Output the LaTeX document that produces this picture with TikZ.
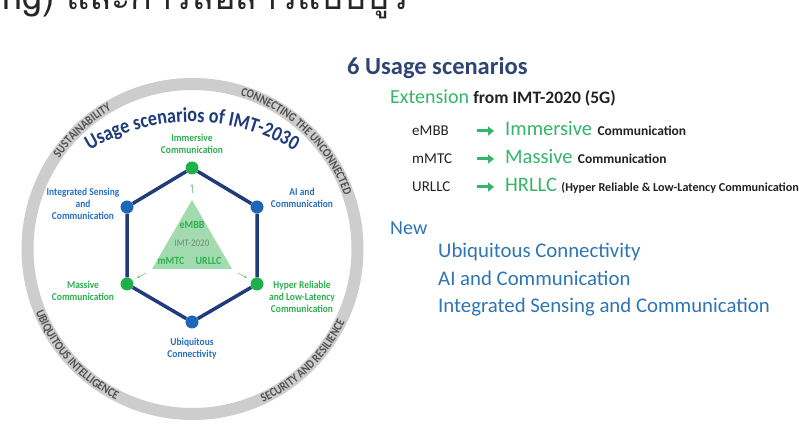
\documentclass[tikz,border=0pt]{standalone}
\usepackage{fontspec}
\setmainfont{Carlito}
\newfontfamily\thaifont[Script=Thai]{Loma}
\newfontfamily\condfont[FakeStretch=0.9]{Carlito}
\newfontfamily\ringcond[FakeStretch=0.85]{Carlito}
\newfontfamily\titlefont[FakeStretch=0.86]{Carlito}
\usetikzlibrary{decorations.text,arrows.meta}
\definecolor{ringgray}{HTML}{CDCDCD}
\definecolor{ringtext}{HTML}{505050}
\definecolor{navy}{HTML}{223B7C}
\definecolor{titleblue}{HTML}{1F3C7A}
\definecolor{dgreen}{HTML}{1FAF4B}
\definecolor{dblue}{HTML}{1E66B8}
\definecolor{lgreen}{HTML}{2DB04F}
\definecolor{lblue}{HTML}{2770C2}
\definecolor{trigreen}{HTML}{A3DBB0}
\definecolor{trigray}{HTML}{6F8A78}
\definecolor{arrgreen}{HTML}{8CCF9C}
\definecolor{rgreen}{HTML}{35B56A}
\definecolor{rblue}{HTML}{2E75B6}
\definecolor{rtitle}{HTML}{2E4573}
\definecolor{rdark}{HTML}{222222}
\newcommand{\fs}[1]{\fontsize{#1}{#1}\selectfont}
\newcommand{\ringfont}{\ringcond\bfseries\fs{12.5}}
\begin{document}
\begin{tikzpicture}[x=1pt,y=1pt,
  gdot/.style={circle,fill=dgreen,minimum size=13pt,inner sep=0},
  bdot/.style={circle,fill=dblue,minimum size=13pt,inner sep=0},
  hexline/.style={draw=navy,line width=3.5pt},
  lab/.style={align=center,inner sep=0,font=\condfont\bfseries\fontsize{10.5}{12}\selectfont},
  glab/.style={lab,text=lgreen},
  blab/.style={lab,text=lblue},
  tri/.style={font=\condfont\bfseries\fs{11},text=lgreen,inner sep=0},
  tarrow/.style={draw=arrgreen,line width=0.8pt,-{Stealth[length=3pt,width=3.5pt]}},
  rarrow/.style={draw=rgreen,line width=3pt,-{Triangle[length=6pt,width=9pt]}},
  rtxt/.style={anchor=base west,inner sep=0},
  ringdeco/.style={decorate,decoration={text along path,text align=center,text color=ringtext,text={|\ringfont|#1}}}
]
\useasboundingbox (0,0) rectangle (799,427);
\clip (0,0) rectangle (799,427);
\fill[white] (0,0) rectangle (799,427);

% clipped Thai heading line at the top
\node[anchor=base west,inner sep=0,font=\thaifont\fs{36},text=black!85] (thai) at (-6,417.5) {ing) และการสื่อสารแบบบูร};

% ring
\coordinate (rc) at (192.5,178);
\draw[ringgray,line width=12pt] (rc) circle[radius=165];
\path[ringdeco={SUSTAINABILITY}] ([shift={(rc)}]178:161) arc[start angle=178,end angle=88,radius=161];
\path[ringdeco={CONNECTING THE UNCONNECTED}] ([shift={(rc)}]96:161) arc[start angle=96,end angle=-4,radius=161];
\path[ringdeco={UBIQUITOUS INTELLIGENCE}] ([shift={(rc)}]177:169) arc[start angle=177,end angle=268,radius=169];
\path[ringdeco={SECURITY AND RESILIENCE}] ([shift={(rc)}]270:169) arc[start angle=270,end angle=359,radius=169];

% title on arc
\coordinate (tc) at (192,108);
\path[decorate,decoration={text along path,text align=center,text color=titleblue,
  text={|\titlefont\bfseries\fs{21}|Usage scenarios of IMT-2030}}]
  ([shift={(tc)}]130:197) arc[start angle=130,end angle=50,radius=197];

% triangle
\coordinate (ta) at (192,227);
\coordinate (tl) at (152,158);
\coordinate (tr) at (232,158);
\fill[trigreen] (ta) -- (tl) -- (tr) -- cycle;
\node[tri] (embb) at (192,202) {eMBB};
\node[font=\condfont\fs{10},text=trigray,inner sep=0] (imt) at (192,184) {IMT-2020};
\node[tri] (mmtc) at (171,166) {mMTC};
\node[tri] (urllc) at (208.5,166) {URLLC};

% hexagon dots
\node[gdot] (imm) at (192,259) {};
\node[bdot] (ai) at (257,220) {};
\node[gdot] (hr) at (257,143) {};
\node[bdot] (ubi) at (192,105) {};
\node[gdot] (mas) at (127,143) {};
\node[bdot] (isac) at (127,220) {};
\draw[hexline] (imm) -- (ai) -- (hr) -- (ubi) -- (mas) -- (isac) -- (imm);

% small arrows from triangle
\coordinate (a1s) at (192,234); \coordinate (a1e) at (192,243);
\coordinate (a2s) at (146,154); \coordinate (a2e) at (137,149);
\coordinate (a3s) at (238,154); \coordinate (a3e) at (247,149);
\draw[tarrow] (a1s) -- (a1e);
\draw[tarrow] (a2s) -- (a2e);
\draw[tarrow] (a3s) -- (a3e);

% labels
\node[glab] (limm) at (192,283.5) {Immersive\\Communication};
\node[blab] (lai) at (302,229) {AI and\\Communication};
\node[blab] (lisac) at (83,223) {Integrated Sensing\\and\\Communication};
\node[glab] (lmas) at (83,136) {Massive\\Communication};
\node[glab] (lhr) at (302,130) {Hyper Reliable\\and Low-Latency\\Communication};
\node[blab] (lubi) at (192,78) {Ubiquitous\\Connectivity};

% right side
\node[rtxt,font=\bfseries\fs{24.5},text=rtitle] (rt) at (347,352) {6 Usage scenarios};
\node[rtxt,font=\fs{20},text=rgreen] (ext) at (390,323) {Extension};
\node[rtxt,font=\bfseries\fs{17.5},text=rdark] (from) at (ext.base east) {\ from IMT-2020 (5G)};

\node[rtxt,font=\fs{15},text=rdark] (e1) at (412,291) {eMBB};
\node[rtxt,font=\fs{15},text=rdark] (e2) at (412,263) {mMTC};
\node[rtxt,font=\fs{15},text=rdark] (e3) at (412,235) {URLLC};
\coordinate (r1s) at (477,296); \coordinate (r1e) at (494,296);
\coordinate (r2s) at (477,268); \coordinate (r2e) at (494,268);
\coordinate (r3s) at (477,240); \coordinate (r3e) at (494,240);
\draw[rarrow] (r1s) -- (r1e);
\draw[rarrow] (r2s) -- (r2e);
\draw[rarrow] (r3s) -- (r3e);
\node[rtxt,font=\fs{20.5},text=rgreen] (n1) at (505,291) {Immersive};
\node[rtxt,font=\bfseries\fs{13.5},text=rdark] (c1) at ([xshift=5pt]n1.base east) {Communication};
\node[rtxt,font=\fs{20.5},text=rgreen] (n2) at (505,263) {Massive};
\node[rtxt,font=\bfseries\fs{13.5},text=rdark] (c2) at ([xshift=5pt]n2.base east) {Communication};
\node[rtxt,font=\fs{20.5},text=rgreen] (n3) at (505,235) {HRLLC};
\node[rtxt,font=\bfseries\fs{12.2},text=rdark] (c3) at ([xshift=4pt]n3.base east) {(Hyper Reliable \& Low-Latency Communication)};

\node[rtxt,font=\fs{20},text=rblue] (new) at (390,192) {New};
\node[rtxt,font=\fs{20.8},text=rblue] (u1) at (438,169) {Ubiquitous Connectivity};
\node[rtxt,font=\fs{20.8},text=rblue] (u2) at (438,141) {AI and Communication};
\node[rtxt,font=\fs{20.8},text=rblue] (u3) at (438,114) {Integrated Sensing and Communication};
\end{tikzpicture}
\end{document}
